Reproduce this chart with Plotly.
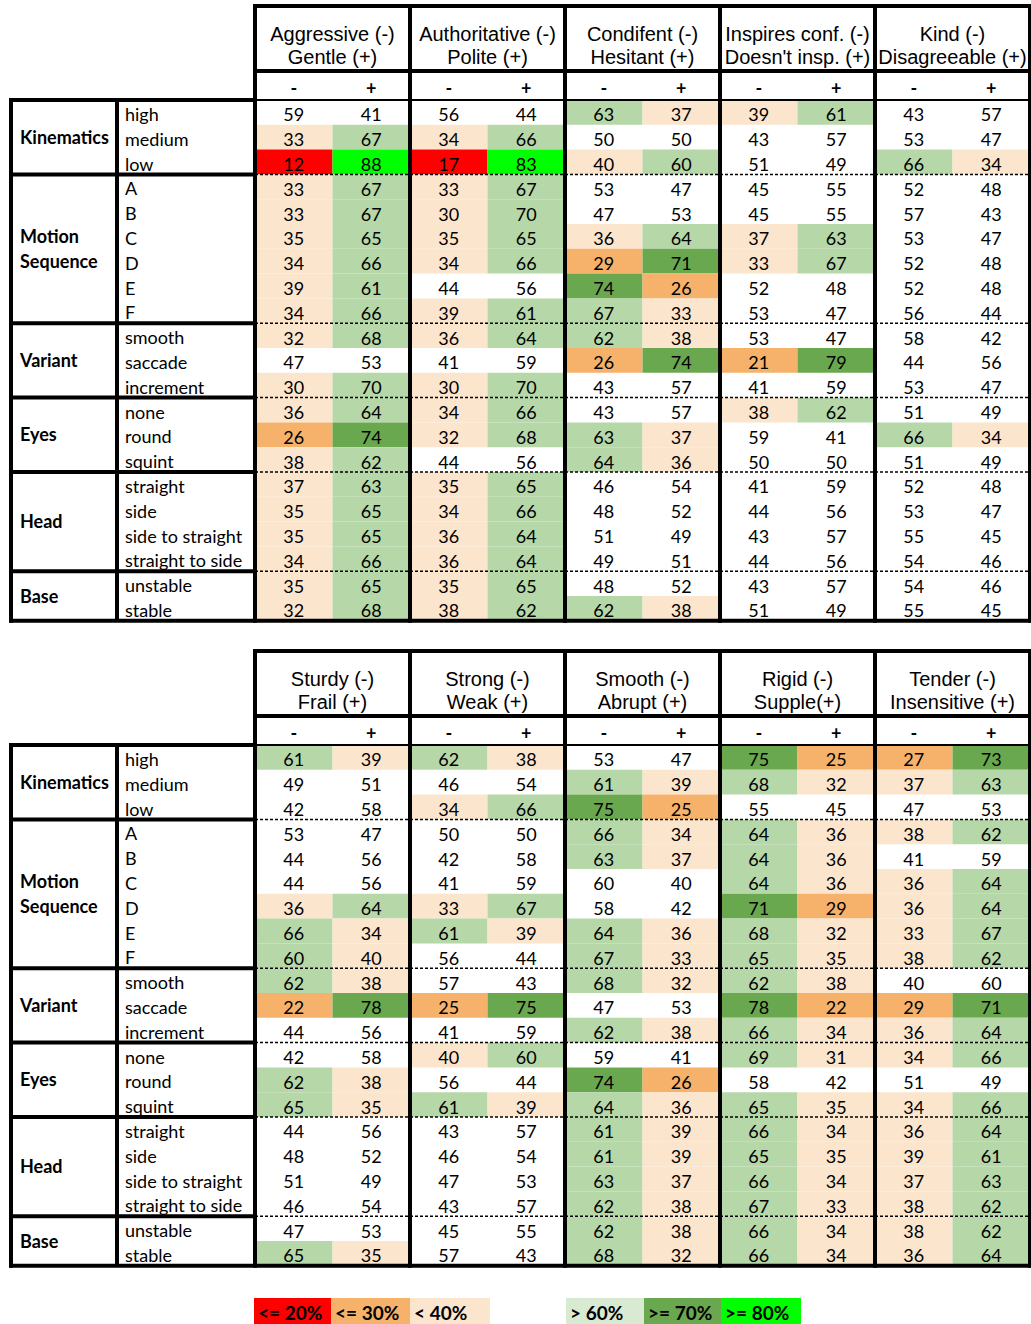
import plotly.graph_objects as go

# ---------------- DATA ----------------
groups = ["Kinematics", "Motion\nSequence", "Variant", "Eyes", "Head", "Base"]
group_levels = [
    ["high", "medium", "low"],
    ["A", "B", "C", "D", "E", "F"],
    ["smooth", "saccade", "increment"],
    ["none", "round", "squint"],
    ["straight", "side", "side to straight", "straight to side"],
    ["unstable", "stable"],
]
sub_headers = ["-", "+"]

# Table 1
aggressive_neg = [59, 33, 12, 33, 33, 35, 34, 39, 34, 32, 47, 30, 36, 26, 38, 37, 35, 35, 34, 35, 32]
aggressive_pos = [41, 67, 88, 67, 67, 65, 66, 61, 66, 68, 53, 70, 64, 74, 62, 63, 65, 65, 66, 65, 68]
authoritative_neg = [56, 34, 17, 33, 30, 35, 34, 44, 39, 36, 41, 30, 34, 32, 44, 35, 34, 36, 36, 35, 38]
authoritative_pos = [44, 66, 83, 67, 70, 65, 66, 56, 61, 64, 59, 70, 66, 68, 56, 65, 66, 64, 64, 65, 62]
confident_neg = [63, 50, 40, 53, 47, 36, 29, 74, 67, 62, 26, 43, 43, 63, 64, 46, 48, 51, 49, 48, 62]
confident_pos = [37, 50, 60, 47, 53, 64, 71, 26, 33, 38, 74, 57, 57, 37, 36, 54, 52, 49, 51, 52, 38]
inspires_neg = [39, 43, 51, 45, 45, 37, 33, 52, 53, 53, 21, 41, 38, 59, 50, 41, 44, 43, 44, 43, 51]
inspires_pos = [61, 57, 49, 55, 55, 63, 67, 48, 47, 47, 79, 59, 62, 41, 50, 59, 56, 57, 56, 57, 49]
kind_neg = [43, 53, 66, 52, 57, 53, 52, 52, 56, 58, 44, 53, 51, 66, 51, 52, 53, 55, 54, 54, 55]
kind_pos = [57, 47, 34, 48, 43, 47, 48, 48, 44, 42, 56, 47, 49, 34, 49, 48, 47, 45, 46, 46, 45]

# Table 2
sturdy_neg = [61, 49, 42, 53, 44, 44, 36, 66, 60, 62, 22, 44, 42, 62, 65, 44, 48, 51, 46, 47, 65]
sturdy_pos = [39, 51, 58, 47, 56, 56, 64, 34, 40, 38, 78, 56, 58, 38, 35, 56, 52, 49, 54, 53, 35]
strong_neg = [62, 46, 34, 50, 42, 41, 33, 61, 56, 57, 25, 41, 40, 56, 61, 43, 46, 47, 43, 45, 57]
strong_pos = [38, 54, 66, 50, 58, 59, 67, 39, 44, 43, 75, 59, 60, 44, 39, 57, 54, 53, 57, 55, 43]
smooth_neg = [53, 61, 75, 66, 63, 60, 58, 64, 67, 68, 47, 62, 59, 74, 64, 61, 61, 63, 62, 62, 68]
smooth_pos = [47, 39, 25, 34, 37, 40, 42, 36, 33, 32, 53, 38, 41, 26, 36, 39, 39, 37, 38, 38, 32]
rigid_neg = [75, 68, 55, 64, 64, 64, 71, 68, 65, 62, 78, 66, 69, 58, 65, 66, 65, 66, 67, 66, 66]
rigid_pos = [25, 32, 45, 36, 36, 36, 29, 32, 35, 38, 22, 34, 31, 42, 35, 34, 35, 34, 33, 34, 34]
tender_neg = [27, 37, 47, 38, 41, 36, 36, 33, 38, 40, 29, 36, 34, 51, 34, 36, 39, 37, 38, 38, 36]
tender_pos = [73, 63, 53, 62, 59, 64, 64, 67, 62, 60, 71, 64, 66, 49, 66, 64, 61, 63, 62, 62, 64]

table1_titles = [("Aggressive (-)", "Gentle (+)"), ("Authoritative (-)", "Polite (+)"),
                 ("Condifent (-)", "Hesitant (+)"), ("Inspires conf. (-)", "Doesn't insp. (+)"),
                 ("Kind (-)", "Disagreeable (+)")]
table2_titles = [("Sturdy (-)", "Frail (+)"), ("Strong (-)", "Weak (+)"),
                 ("Smooth (-)", "Abrupt (+)"), ("Rigid (-)", "Supple(+)"),
                 ("Tender (-)", "Insensitive (+)")]

# 40/60 splits that are highlighted in the original (rounded values)
highlighted_ties = [("Condifent (-)", "low"), ("Sturdy (-)", "F"), ("Strong (-)", "none")]

legend_labels = ["<= 20%", "<= 30%", "< 40%", "> 60%", ">= 70%", ">= 80%"]

# ---------------- STYLE / LAYOUT ----------------
W, H = 1031, 1324
RED, ORANGE, PEACH = "#ff0000", "#f6b26b", "#fce5cd"
LGREEN, DGREEN, BGREEN = "#b6d7a8", "#6aa84f", "#00ff00"
LEGEND_LGREEN = "#d9ead3"
legend_colors = [RED, ORANGE, PEACH, LEGEND_LGREEN, DGREEN, BGREEN]
legend_x0 = [254, 331, 410, 566, 644, 721]
legend_x1 = [331, 410, 490, 644, 721, 801]
LEGEND_Y0 = 1298

X_LEFT, X_LABEL, X_DATA, X_RIGHT = 11, 117, 255, 1030
TRAIT_W = (X_RIGHT - X_DATA) / 5
HALF_W = TRAIT_W / 2
TITLE_H, SUB_H = 65, 29
ROW_H = 24.8
table_tops = [6, 651]

NUM_FONT = "Lato, 'Open Sans', sans-serif"
HEAD_FONT = "'Liberation Sans', Arial, sans-serif"
THICK = 4


def cell_color(v, tie):
    if v <= 20:
        return RED
    if v < 30:
        return ORANGE
    if v < 40 or (tie and v == 40):
        return PEACH
    if v >= 80:
        return BGREEN
    if v > 70:
        return DGREEN
    if v > 60 or (tie and v == 60):
        return LGREEN
    return None


tables = [
    (table1_titles, [(aggressive_neg, aggressive_pos), (authoritative_neg, authoritative_pos),
                     (confident_neg, confident_pos), (inspires_neg, inspires_pos),
                     (kind_neg, kind_pos)]),
    (table2_titles, [(sturdy_neg, sturdy_pos), (strong_neg, strong_pos),
                     (smooth_neg, smooth_pos), (rigid_neg, rigid_pos),
                     (tender_neg, tender_pos)]),
]

row_labels = [lv for g in group_levels for lv in g]
n_rows = len(row_labels)

fig = go.Figure()
shapes = []


def line(x0, y0, x1, y1, w, dash=None):
    d = dict(type="line", x0=x0, y0=y0, x1=x1, y1=y1, xref="x", yref="y",
             line=dict(color="black", width=w))
    if dash:
        d["line"]["dash"] = dash
    shapes.append(d)


def text_trace(xs, ys, txt, family, size, pos="middle center"):
    fig.add_trace(go.Scatter(x=xs, y=ys, text=txt, mode="text", textposition=pos,
                             hoverinfo="skip", showlegend=False,
                             textfont=dict(family=family, size=size, color="black")))


for (titles, series), top in zip(tables, table_tops):
    data_top = top + TITLE_H + SUB_H
    data_bot = data_top + ROW_H * n_rows

    # cell fills
    for t, ((tl1, tl2), (neg, pos)) in enumerate(zip(titles, series)):
        for s, vals in enumerate((neg, pos)):
            for r, v in enumerate(vals):
                tie = (tl1, row_labels[r]) in highlighted_ties
                c = cell_color(v, tie)
                if c:
                    x0 = X_DATA + t * TRAIT_W + s * HALF_W
                    y0 = data_top + r * ROW_H
                    shapes.append(dict(type="rect", x0=x0, x1=x0 + HALF_W, y0=y0, y1=y0 + ROW_H,
                                       xref="x", yref="y", fillcolor=c, line=dict(width=0),
                                       layer="below"))

    # numbers
    xs, ys, txt = [], [], []
    for t, (neg, pos) in enumerate(series):
        for s, vals in enumerate((neg, pos)):
            for r, v in enumerate(vals):
                xs.append(X_DATA + t * TRAIT_W + (s + 0.5) * HALF_W)
                ys.append(data_top + (r + 0.5) * ROW_H + 4.5)
                txt.append(str(v))
    text_trace(xs, ys, txt, NUM_FONT, 18)

    # header titles
    hx, hy, ht = [], [], []
    for t, (tl1, tl2) in enumerate(titles):
        cx = X_DATA + (t + 0.5) * TRAIT_W
        hx += [cx, cx]
        hy += [top + 30, top + 53]
        ht += [tl1, tl2]
    text_trace(hx, hy, ht, HEAD_FONT, 20)

    # sub headers
    sx, sy, st = [], [], []
    for t in range(len(titles)):
        for s, lab in enumerate(sub_headers):
            sx.append(X_DATA + t * TRAIT_W + (s + 0.5) * HALF_W)
            sy.append(top + TITLE_H + SUB_H / 2 + 5)
            st.append("<b>" + lab + "</b>")
    text_trace(sx, sy, st, NUM_FONT, 18)

    # row labels
    lx, ly, lt = [], [], []
    for r, lab in enumerate(row_labels):
        lx.append(X_LABEL + 8)
        ly.append(data_top + (r + 0.5) * ROW_H + 4)
        lt.append(lab)
    text_trace(lx, ly, lt, NUM_FONT, 18, "middle right")

    # group labels + group borders
    r0 = 0
    gx, gy, gt = [], [], []
    for g, levels in zip(groups, group_levels):
        gtop = data_top + r0 * ROW_H
        gbot = gtop + len(levels) * ROW_H
        mid = (gtop + gbot) / 2
        parts = g.split("\n")
        for i, p in enumerate(parts):
            gx.append(X_LEFT + 9)
            gy.append(mid + 2 + (i - (len(parts) - 1) / 2) * 25)
            gt.append("<b>" + p + "</b>")
        if r0 > 0:
            line(X_LEFT, gtop, X_DATA, gtop, THICK)
            line(X_DATA, gtop, X_RIGHT, gtop, 1.5, dash="3px,2px")
        r0 += len(levels)
    text_trace(gx, gy, gt, NUM_FONT, 18, "middle right")

    # borders
    line(X_LEFT, data_top, X_DATA, data_top, THICK)
    line(X_LEFT, data_top - 2, X_LEFT, data_bot + 2, THICK)
    line(X_LABEL, data_top, X_LABEL, data_bot, THICK)
    line(X_LEFT - 2, data_bot, X_RIGHT + 2, data_bot, THICK)
    line(X_DATA, top, X_RIGHT + 2, top, THICK)
    line(X_DATA, top + TITLE_H, X_RIGHT, top + TITLE_H, THICK)
    line(X_DATA, data_top, X_RIGHT, data_top, 2)
    for t in range(6):
        x = X_DATA + t * TRAIT_W
        line(x, top - 2, x, data_bot + 2, THICK)

# legend
for lab, c, x0, x1 in zip(legend_labels, legend_colors, legend_x0, legend_x1):
    shapes.append(dict(type="rect", x0=x0, x1=x1, y0=LEGEND_Y0, y1=H + 5, xref="x", yref="y",
                       fillcolor=c, line=dict(width=0), layer="below"))
text_trace([x0 + 4 for x0 in legend_x0], [LEGEND_Y0 + 17] * len(legend_labels),
           ["<b>" + l + "</b>" for l in legend_labels], NUM_FONT, 19, "middle right")

fig.update_layout(
    width=W, height=H, margin=dict(l=0, r=0, t=0, b=0),
    paper_bgcolor="white", plot_bgcolor="white",
    xaxis=dict(range=[0, W], visible=False, fixedrange=True),
    yaxis=dict(range=[H, 0], visible=False, fixedrange=True),
    shapes=shapes,
)

fig.write_html("out.html", config={"displayModeBar": False},
               post_script="document.body.style.margin='0';")
